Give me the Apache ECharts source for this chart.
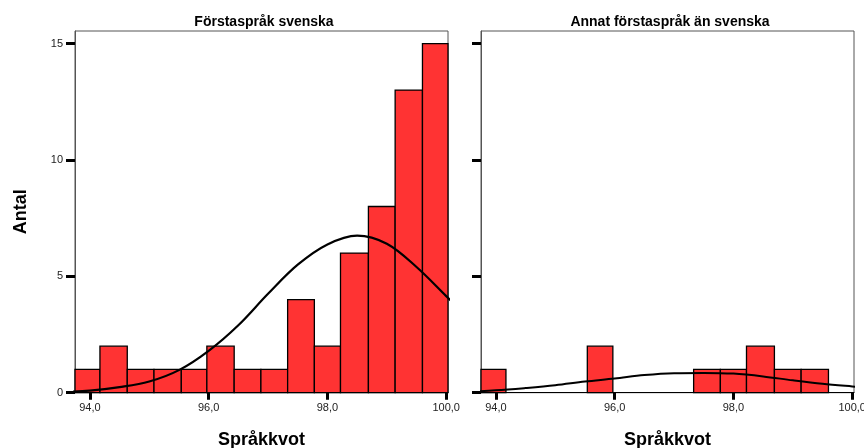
<!DOCTYPE html>
<html>
<head>
<meta charset="utf-8">
<script src="https://cdn.jsdelivr.net/npm/echarts@6/dist/echarts.min.js"></script>
<style>html,body{margin:0;padding:0;background:#fff;}#c{width:864px;height:448px;}</style>
</head>
<body>
<div id="c"></div>
<script>
// Histogram bin edges (Språkkvot)
const binEdges = [93.75, 94.17, 94.63, 95.08, 95.54, 95.97, 96.43, 96.88, 97.33, 97.78, 98.22, 98.69, 99.14, 99.60, 100.03];
// Counts per bin
const countsSwedish = [1, 2, 1, 1, 1, 2, 1, 1, 4, 2, 6, 8, 13, 15];
const countsOther   = [1, 0, 0, 0, 2, 0, 0, 0, 1, 1, 2, 1, 1, 0];
// Normal curve (clipped to the plot box)
const curveX       = [93.5, 94.0, 94.5, 95.0, 95.5, 96.0, 96.5, 97.0, 97.5, 98.0, 98.5, 99.0, 99.5, 100.0, 100.5];
const curveSwedish = [0.03, 0.09, 0.24, 0.48, 0.97, 1.8, 2.9, 4.25, 5.5, 6.37, 6.75, 6.4, 5.4, 4.15, 2.9];
const curveOther   = [0.04, 0.1, 0.2, 0.32, 0.48, 0.61, 0.76, 0.84, 0.85, 0.82, 0.7, 0.53, 0.38, 0.27, 0.17];
// Tick labels
const xTicks = [94, 96, 98, 100];
const yTicks = [0, 5, 10, 15];
const panelTitles = ['Förstaspråk svenska', 'Annat förstaspråk än svenska'];
const xName = 'Språkkvot';
const yName = 'Antal';

const FONT = 'Liberation Sans, Arial, sans-serif';

function binData(counts) {
  const out = [];
  counts.forEach((c, i) => { if (c > 0) out.push([binEdges[i], binEdges[i + 1], c]); });
  return out;
}

function renderBar(params, api) {
  const p0 = api.coord([api.value(0), api.value(2)]);
  const p1 = api.coord([api.value(1), 0]);
  return {
    type: 'rect',
    shape: { x: p0[0], y: p0[1], width: p1[0] - p0[0], height: p1[1] - p0[1] },
    style: { fill: '#FF3333', stroke: '#000', lineWidth: 1.3 }
  };
}

const chart = echarts.init(document.getElementById('c'), null, { renderer: 'canvas' });

function xAxisCfg(idx) {
  return {
    type: 'value', gridIndex: idx, min: 93.75, max: 100.03,
    name: xName, nameLocation: 'middle', nameGap: 38,
    nameTextStyle: { fontFamily: FONT, fontSize: 18, fontWeight: 'bold', color: '#000' },
    axisLine: { show: true, onZero: false, lineStyle: { color: '#000', width: 1 } },
    axisTick: { show: true, customValues: xTicks, length: 7, lineStyle: { color: '#000', width: 3 } },
    axisLabel: { show: true, customValues: xTicks, margin: 10, fontFamily: FONT, fontSize: 11, color: '#222',
      formatter: v => v.toFixed(1).replace('.', ',') },
    splitLine: { show: false }
  };
}
function yAxisCfg(idx, labels) {
  return {
    type: 'value', gridIndex: idx, min: 0, max: 15.54,
    name: labels ? yName : '', nameLocation: 'middle', nameGap: 45, nameRotate: 90,
    nameTextStyle: { fontFamily: FONT, fontSize: 18, fontWeight: 'bold', color: '#000' },
    axisLine: { show: true, lineStyle: { color: '#555', width: 1 } },
    axisTick: { show: true, customValues: yTicks, length: 9, lineStyle: { color: '#000', width: 3 } },
    axisLabel: { show: labels, customValues: yTicks, margin: 12, fontFamily: FONT, fontSize: 11, color: '#222' },
    splitLine: { show: false }
  };
}

const option = {
  animation: false,
  backgroundColor: '#fff',
  title: [
    { text: panelTitles[0], left: 259, top: 10, textAlign: 'center',
      textStyle: { fontFamily: FONT, fontSize: 14, fontWeight: 'bold', color: '#000' } },
    { text: panelTitles[1], left: 665, top: 10, textAlign: 'center',
      textStyle: { fontFamily: FONT, fontSize: 14, fontWeight: 'bold', color: '#000' } }
  ],
  grid: [
    { left: 75, top: 31, width: 373, height: 361.7, show: true, borderColor: '#555', borderWidth: 1,
      containLabel: false, outerBoundsMode: 'none' },
    { left: 481, top: 31, width: 373, height: 361.7, show: true, borderColor: '#555', borderWidth: 1,
      containLabel: false, outerBoundsMode: 'none' }
  ],
  xAxis: [xAxisCfg(0), xAxisCfg(1)],
  yAxis: [yAxisCfg(0, true), yAxisCfg(1, false)],
  series: [
    { type: 'custom', xAxisIndex: 0, yAxisIndex: 0, renderItem: renderBar,
      encode: { x: [0, 1], y: 2 }, data: binData(countsSwedish) },
    { type: 'custom', xAxisIndex: 1, yAxisIndex: 1, renderItem: renderBar,
      encode: { x: [0, 1], y: 2 }, data: binData(countsOther) },
    { type: 'line', xAxisIndex: 0, yAxisIndex: 0, smooth: 0.35, symbol: 'none', clip: true,
      lineStyle: { color: '#000', width: 2.2 }, data: curveX.map((x, i) => [x, curveSwedish[i]]), z: 5 },
    { type: 'line', xAxisIndex: 1, yAxisIndex: 1, smooth: 0.35, symbol: 'none', clip: true,
      lineStyle: { color: '#000', width: 2 }, data: curveX.map((x, i) => [x, curveOther[i]]), z: 5 }
  ]
};
chart.setOption(option);
</script>
</body>
</html>
